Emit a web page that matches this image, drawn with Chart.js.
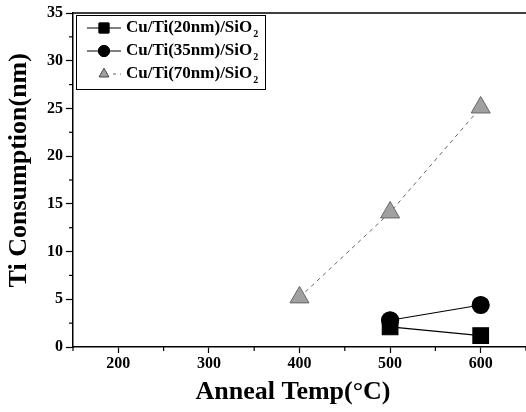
<!DOCTYPE html>
<html>
<head>
<meta charset="utf-8">
<script src="https://cdn.jsdelivr.net/npm/chart.js@4/dist/chart.umd.min.js"></script>
<style>
  html, body { margin: 0; padding: 0; background: #fff; overflow: hidden; }
  #wrap { width: 526px; height: 412px; position: relative; }
  canvas { display: block; }
</style>
</head>
<body>
<div id="wrap"><canvas id="c"></canvas></div>
<script>
// data
const temps = [400, 500, 600];
const ti20 = [null, 2.1, 1.2];
const ti35 = [null, 2.8, 4.4];
const ti70 = [5.2, 14.1, 25.1];
const seriesNames = ['Cu/Ti(20nm)/SiO', 'Cu/Ti(35nm)/SiO', 'Cu/Ti(70nm)/SiO'];
const seriesSub = '2';

const xTicks = [200, 300, 400, 500, 600];
const xMinor = [150, 250, 350, 450, 550, 650];
const yTicks = [0, 5, 10, 15, 20, 25, 30, 35];
const yMinor = [2.5, 7.5, 12.5, 17.5, 22.5, 27.5, 32.5];

const serif = '"Liberation Serif", "Times New Roman", serif';

function pts(vals) {
  const out = [];
  temps.forEach(function (t, i) {
    if (vals[i] !== null) out.push({ x: t, y: vals[i] });
  });
  return out;
}

// minor ticks, top frame line and the boxed legend
const extras = {
  id: 'extras',
  afterDraw(chart) {
    const ctx = chart.ctx;
    const a = chart.chartArea;
    const xs = chart.scales.x, ys = chart.scales.y;
    ctx.save();
    ctx.strokeStyle = '#000';
    ctx.lineWidth = 1.5;
    ctx.beginPath();
    ctx.moveTo(a.left, a.top);
    ctx.lineTo(a.right, a.top);
    ctx.stroke();
    ctx.lineWidth = 1.2;
    xMinor.forEach(function (v) {
      const px = xs.getPixelForValue(v);
      ctx.beginPath();
      ctx.moveTo(px, a.bottom);
      ctx.lineTo(px, a.bottom + 4);
      ctx.stroke();
    });
    yMinor.forEach(function (v) {
      const py = ys.getPixelForValue(v);
      ctx.beginPath();
      ctx.moveTo(a.left, py);
      ctx.lineTo(a.left - 4, py);
      ctx.stroke();
    });

    // legend
    const bx = 76.5, by = 15.5, bw = 189, bh = 74;
    ctx.lineWidth = 1;
    ctx.strokeRect(bx, by, bw, bh);
    const rows = [28, 51, 74];
    chart.data.datasets.forEach(function (ds, i) {
      const y = rows[i];
      ctx.save();
      ctx.strokeStyle = ds.borderColor;
      ctx.lineWidth = 1;
      if (ds.borderDash) ctx.setLineDash([3, 4]);
      ctx.beginPath();
      if (ds.borderDash) {
        ctx.moveTo(113, y); ctx.lineTo(121, y);
      } else {
        ctx.moveTo(87, y); ctx.lineTo(121, y);
      }
      ctx.stroke();
      ctx.restore();
      Chart.helpers.drawPoint(ctx, {
        pointStyle: ds.pointStyle,
        radius: ds.pointStyle === 'rect' ? 7 : 5.5,
        rotation: 0,
        borderWidth: 1
      }, 104, y);
      ctx.fillStyle = ds.pointBackgroundColor;
      ctx.strokeStyle = ds.pointBorderColor;
      ctx.fill();
      ctx.stroke();

      ctx.fillStyle = '#000';
      ctx.textBaseline = 'middle';
      ctx.font = 'bold 17px ' + serif;
      ctx.fillText(seriesNames[i], 126, y);
      const w = ctx.measureText(seriesNames[i]).width;
      ctx.font = 'bold 10px ' + serif;
      ctx.fillText(seriesSub, 126 + w + 1, y + 6);
    });
    ctx.restore();
  }
};

const tickFont = { family: serif, size: 16, weight: 'bold' };
const titleFont = { family: serif, size: 26, weight: 'bold' };

new Chart(document.getElementById('c'), {
  type: 'scatter',
  data: {
    datasets: [
      {
        label: seriesNames[0] + seriesSub,
        data: pts(ti20),
        showLine: true,
        borderColor: '#000',
        borderWidth: 1.2,
        pointStyle: 'rect',
        pointRadius: 11,
        pointBackgroundColor: '#000',
        pointBorderColor: '#000'
      },
      {
        label: seriesNames[1] + seriesSub,
        data: pts(ti35),
        showLine: true,
        borderColor: '#000',
        borderWidth: 1.2,
        pointStyle: 'circle',
        pointRadius: 8.5,
        pointBackgroundColor: '#000',
        pointBorderColor: '#000'
      },
      {
        label: seriesNames[2] + seriesSub,
        data: pts(ti70),
        showLine: true,
        borderColor: '#666',
        borderWidth: 1,
        borderDash: [4, 4],
        pointStyle: 'triangle',
        pointRadius: 11,
        pointBackgroundColor: '#a0a0a0',
        pointBorderColor: '#666',
        pointBorderWidth: 1
      }
    ]
  },
  options: {
    responsive: true,
    maintainAspectRatio: false,
    animation: false,
    layout: { autoPadding: false, padding: { top: 13, right: 0, left: 0, bottom: 0 } },
    plugins: { legend: { display: false }, tooltip: { enabled: false } },
    scales: {
      x: {
        type: 'linear',
        min: 150,
        max: 650,
        afterBuildTicks: function (s) { s.ticks = xTicks.map(function (v) { return { value: v }; }); },
        afterFit: function (s) { s.height = 65; s.paddingLeft = 0; s.paddingRight = 0; },
        border: { display: true, color: '#000', width: 1.5 },
        grid: { drawOnChartArea: false, tickLength: 6, tickColor: '#000', tickWidth: 1.2 },
        ticks: { font: tickFont, color: '#000', padding: 1, maxRotation: 0 },
        // trailing spaces nudge the centred title a little to the left, as in the original
        title: { display: true, text: 'Anneal Temp(°C)  ', font: titleFont, color: '#000', padding: { top: 0, bottom: 4 } }
      },
      y: {
        type: 'linear',
        min: 0,
        max: 35,
        afterBuildTicks: function (s) { s.ticks = yTicks.map(function (v) { return { value: v }; }); },
        afterFit: function (s) { s.width = 73; },
        border: { display: true, color: '#000', width: 1.5 },
        grid: { drawOnChartArea: false, tickLength: 7, tickColor: '#000', tickWidth: 1.2 },
        ticks: { font: tickFont, color: '#000', padding: 3 },
        title: { display: true, text: '   Ti Consumption(nm)', font: titleFont, color: '#000', padding: { top: 4, bottom: 0 } }
      }
    }
  },
  plugins: [extras]
});
</script>
</body>
</html>
